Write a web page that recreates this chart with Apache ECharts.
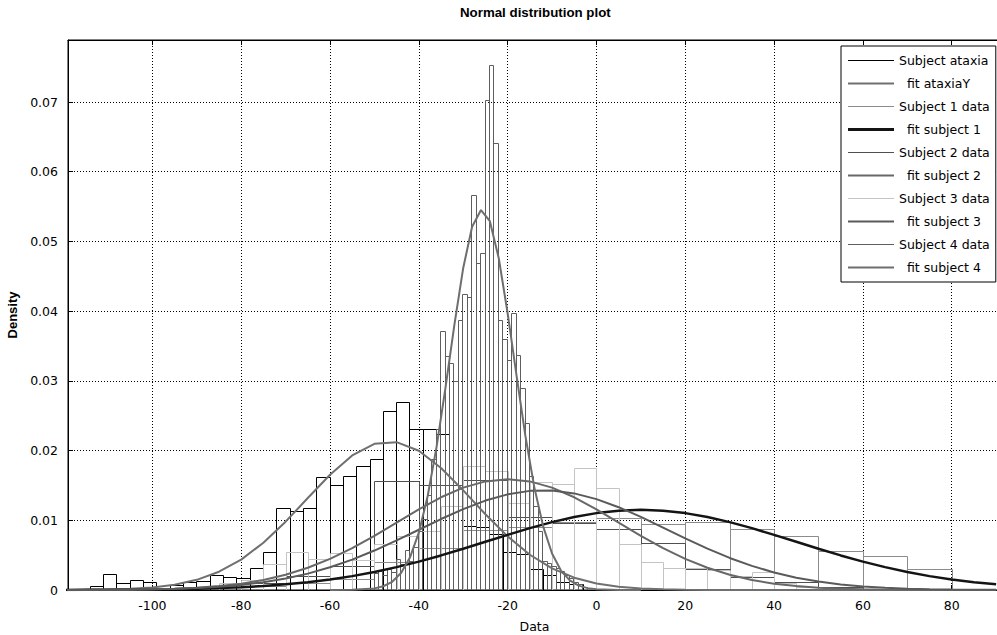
<!DOCTYPE html>
<html><head><meta charset="utf-8">
<script src="https://cdn.jsdelivr.net/npm/echarts@6/dist/echarts.min.js"></script>
<style>html,body{margin:0;padding:0;background:#fff}#c{width:997px;height:635px}</style>
</head><body><div id="c"></div>
<script>
// ---------- histogram data (left bin edge, bin width, density) ----------
const ataxiaEdges = [-114.1,-111.1,-108.1,-105.1,-102.1,-99.1,-96.1,-93.1,-90.1,-87.1,-84.1,-81.1,-78.1,-75.1,-72.1,-69.1,-66.1,-63.1,-60.1,-57.1,-54.1,-51.1,-48.1,-45.1,-42.1,-39.1,-36.1,-33.1,-30.1,-27.1,-24.1,-21.1,-18.1,-15.1,-12.1,-9.1,-6.1];
const ataxiaWidth = 3;
const ataxiaDensity = [0.0006,0.0023,0.0010,0.0014,0.0011,0.0003,0.0007,0.0011,0.0013,0.0022,0.0019,0.0017,0.0031,0.0055,0.0117,0.0114,0.0117,0.0162,0.0151,0.0163,0.0178,0.0188,0.0257,0.0269,0.0231,0.0231,0.0224,0.0120,0.0092,0.0090,0.0081,0.0055,0.0052,0.0030,0.0022,0.0012,0.0008];

const subj1Edges = [-80,-70,-60,-50,-40,-30,-20,-10,0,10,20,30,40,50,60,70];
const subj1Width = 10;
const subj1Density = [0.0006,0.0010,0.0016,0.0040,0.0060,0.0086,0.0090,0.0098,0.0104,0.0095,0.0097,0.0088,0.0077,0.0056,0.0049,0.0030];

const subj2Edges = [-90,-80,-70,-60,-50,-40,-30,-20,-10,0,10,20,30,40,50];
const subj2Width = 10;
const subj2Density = [0.0004,0.0010,0.0020,0.0035,0.0156,0.0150,0.0158,0.0105,0.0096,0.0087,0.0067,0.0030,0.0018,0.0012,0.0004];

const subj3Edges = [-85,-80,-75,-70,-65,-60,-55,-50,-45,-40,-35,-30,-25,-20,-15,-10,-5,0,5,10,15,20,25,30,35,40,45];
const subj3Width = 5;
const subj3Density = [0.0010,0.0015,0.0037,0.0055,0.0045,0.0053,0.0043,0.0066,0.0078,0.0085,0.0120,0.0178,0.0170,0.0125,0.0155,0.0152,0.0175,0.0146,0.0066,0.0040,0.0031,0.0031,0.0028,0.0020,0.0026,0.0010,0.0004];

const subj4Edges = [-50.2,-49.2,-48.2,-47.2,-46.2,-45.2,-44.2,-43.2,-42.2,-41.2,-40.2,-39.2,-38.2,-37.2,-36.2,-35.2,-34.2,-33.2,-32.2,-31.2,-30.2,-29.2,-28.2,-27.2,-26.2,-25.2,-24.2,-23.2,-22.2,-21.2,-20.2,-19.2,-18.2,-17.2,-16.2,-15.2,-14.2,-13.2,-12.2,-11.2,-10.2,-9.2,-8.2,-7.2,-6.2,-5.2,-4.2,-3.2];
const subj4Width = 1;
const subj4Density = [0.0024,0.0027,0.0022,0.0030,0.0026,0.0044,0.0038,0.0057,0.0042,0.0061,0.0085,0.0102,0.0136,0.0188,0.0231,0.0371,0.0336,0.0325,0.0300,0.0387,0.0425,0.0421,0.0567,0.0469,0.0484,0.0703,0.0753,0.0641,0.0387,0.0360,0.0330,0.0397,0.0337,0.0290,0.0240,0.0163,0.0120,0.0085,0.0042,0.0039,0.0035,0.0031,0.0027,0.0022,0.0017,0.0012,0.0008,0.0005];

// ---------- fitted curves ----------
const fitX = [-120,-115,-110,-105,-100,-95,-90,-85,-80,-75,-70,-65,-60,-55,-50,-45,-40,-35,-30,-25,-20,-15,-10,-5,0,5,10,15,20,25,30,35,40,45,50,55,60,65,70,75,80,85,90];
const fitAtaxia = [0.00001,0.00003,0.00007,0.00017,0.00037,0.00076,0.00146,0.00262,0.00436,0.00678,0.00980,0.01319,0.01654,0.01930,0.02097,0.02121,0.01998,0.01751,0.01429,0.01086,0.00769,0.00506,0.00310,0.00177,0.00094,0.00047,0.00021,0.00009,0.00004,0.00001,0,0,0,0,0,0,0,0,0,0,0,0,0];
const fitSubj1 = [0.00001,0.00002,0.00003,0.00005,0.00008,0.00012,0.00018,0.00027,0.00040,0.00057,0.00081,0.00111,0.00150,0.00199,0.00258,0.00328,0.00407,0.00496,0.00592,0.00692,0.00791,0.00887,0.00974,0.01047,0.01103,0.01138,0.01150,0.01138,0.01103,0.01047,0.00974,0.00887,0.00791,0.00692,0.00592,0.00496,0.00407,0.00328,0.00258,0.00199,0.00150,0.00111,0.00081];
const fitSubj2 = [0.00001,0.00001,0.00003,0.00005,0.00010,0.00018,0.00033,0.00056,0.00091,0.00144,0.00219,0.00319,0.00447,0.00601,0.00778,0.00968,0.01157,0.01330,0.01469,0.01558,0.01590,0.01558,0.01469,0.01330,0.01157,0.00968,0.00778,0.00601,0.00447,0.00319,0.00219,0.00144,0.00091,0.00056,0.00033,0.00018,0.00010,0.00005,0.00003,0.00001,0.00001,0,0];
const fitSubj3 = [0.00001,0.00002,0.00003,0.00006,0.00010,0.00017,0.00029,0.00047,0.00073,0.00112,0.00165,0.00235,0.00326,0.00436,0.00566,0.00711,0.00864,0.01018,0.01161,0.01283,0.01372,0.01422,0.01426,0.01386,0.01304,0.01188,0.01048,0.00895,0.00741,0.00594,0.00460,0.00346,0.00252,0.00177,0.00121,0.00080,0.00051,0.00032,0.00019,0.00011,0.00006,0.00003,0.00002];
const fitSubj4X = [-60,-55,-50,-48,-46,-44,-42,-40,-38,-36,-34,-32,-30,-28,-26,-24,-22,-20,-18,-16,-14,-12,-10,-8,-6,-4,-2,0,5,10];
const fitSubj4 = [0,0.00002,0.00023,0.00054,0.00118,0.00244,0.00465,0.00822,0.01349,0.02054,0.02899,0.03800,0.04620,0.05210,0.05450,0.05290,0.04760,0.03970,0.03080,0.02210,0.01476,0.00913,0.00524,0.00279,0.00138,0.00063,0.00027,0.00011,0.00001,0];

// ---------- axes ----------
const xMin = -119, xMax = 91.1;
const yMin = 0, yMax = 0.0789, yStep = 0.01;

const chart = echarts.init(document.getElementById('c'), null, {renderer: 'svg'});

function histData(edges, width, dens) {
  return edges.map((e, i) => [e, e + width, dens[i]]);
}
function histRender(color) {
  return function (params, api) {
    const a = api.coord([api.value(0), 0]);
    const b = api.coord([api.value(1), api.value(2)]);
    const x0 = Math.round(a[0]) + 0.5, x1 = Math.round(b[0]) + 0.5;
    const y0 = Math.round(a[1]) + 0.5, y1 = Math.round(b[1]) + 0.5;
    return {
      type: 'rect',
      shape: {x: x0, y: y1, width: x1 - x0, height: y0 - y1},
      style: {fill: 'none', stroke: color, lineWidth: 1}
    };
  };
}
function histSeries(name, edges, width, dens, color) {
  return {
    type: 'custom', name: name, silent: true, clip: true,
    renderItem: histRender(color),
    itemStyle: {color: color},
    encode: {x: [0, 1], y: 2},
    data: histData(edges, width, dens)
  };
}
function fitSeries(name, xs, ys, color, w) {
  return {
    type: 'line', name: name, silent: true, clip: true,
    symbol: 'none', showSymbol: false, smooth: false,
    lineStyle: {color: color, width: w},
    itemStyle: {color: color},
    data: xs.map((x, i) => [x, ys[i]])
  };
}

const thinIcon = 'path://M0,0H46V1H0Z';
const thickIcon = 'path://M0,0H46V2H0Z';
const axisFont = {fontFamily: 'DejaVu Sans', fontSize: 12.5, color: '#000'};

chart.setOption({
  animation: false,
  backgroundColor: '#fff',
  title: {
    text: 'Normal distribution plot',
    left: 460, top: 6, padding: 0,
    textStyle: {fontFamily: 'Liberation Sans', fontWeight: 'bold', fontSize: 13.3, color: '#000'}
  },
  grid: {left: 68, top: 40, right: -4, bottom: 45, outerBoundsMode: 'none', containLabel: false,
         show: true, borderColor: '#000', borderWidth: 1, backgroundColor: '#fff'},
  legend: {
    orient: 'vertical', left: 841, top: 46,
    padding: [8, 6, 8, 7], itemGap: 10, itemWidth: 46, itemHeight: 14,
    backgroundColor: '#fff', borderColor: '#000', borderWidth: 1, borderRadius: 0,
    symbolKeepAspect: true,
    textStyle: {fontFamily: 'DejaVu Sans', fontSize: 12.5, color: '#000'},
    formatter: n => (n.indexOf('fit') === 0 ? '  ' + n : n),
    data: [
      {name: 'Subject ataxia', icon: thinIcon},
      {name: 'fit ataxiaY', icon: thickIcon},
      {name: 'Subject 1 data', icon: thinIcon},
      {name: 'fit subject 1', icon: 'path://M0,0H46V3H0Z'},
      {name: 'Subject 2 data', icon: thinIcon},
      {name: 'fit subject 2', icon: thickIcon},
      {name: 'Subject 3 data', icon: thinIcon},
      {name: 'fit subject 3', icon: thickIcon},
      {name: 'Subject 4 data', icon: thinIcon},
      {name: 'fit subject 4', icon: thickIcon}
    ]
  },
  xAxis: [{
    type: 'value', min: xMin, max: xMax, splitNumber: 10, position: 'bottom',
    name: 'Data', nameLocation: 'middle', nameGap: 30,
    nameTextStyle: {fontFamily: 'DejaVu Sans', fontSize: 12.5, color: '#000'},
    axisLine: {show: true, onZero: false, lineStyle: {color: '#000', width: 1}},
    axisTick: {show: true, inside: true, length: 5, lineStyle: {color: '#000'}},
    axisLabel: Object.assign({margin: 9, showMinLabel: false, showMaxLabel: false}, axisFont),
    splitLine: {show: true, lineStyle: {color: '#000', width: 1, type: [1, 2]}}
  }, {
    type: 'value', min: xMin, max: xMax, splitNumber: 10, position: 'top',
    axisLine: {show: true, onZero: false, lineStyle: {color: '#000', width: 1}},
    axisTick: {show: true, inside: true, length: 5, lineStyle: {color: '#000'}},
    axisLabel: {show: false},
    splitLine: {show: false}
  }],
  yAxis: {
    type: 'value', min: yMin, max: yMax, interval: yStep,
    name: 'Density', nameLocation: 'middle', nameRotate: 90, nameGap: 34,
    nameTextStyle: {fontFamily: 'Liberation Sans', fontWeight: 'bold', fontSize: 13, color: '#000'},
    axisLine: {show: true, onZero: false, lineStyle: {color: '#000', width: 1}},
    axisTick: {show: true, inside: true, length: 5, lineStyle: {color: '#000'}},
    axisLabel: Object.assign({margin: 10, showMaxLabel: false}, axisFont),
    splitLine: {show: true, lineStyle: {color: '#000', width: 1, type: [1, 2]}}
  },
  series: [
    histSeries('Subject ataxia', ataxiaEdges, ataxiaWidth, ataxiaDensity, '#000000'),
    fitSeries('fit ataxiaY', fitX, fitAtaxia, '#707070', 2),
    histSeries('Subject 1 data', subj1Edges, subj1Width, subj1Density, '#8c8c8c'),
    fitSeries('fit subject 1', fitX, fitSubj1, '#141414', 2.5),
    histSeries('Subject 2 data', subj2Edges, subj2Width, subj2Density, '#505050'),
    fitSeries('fit subject 2', fitX, fitSubj2, '#686868', 2),
    histSeries('Subject 3 data', subj3Edges, subj3Width, subj3Density, '#c4c4c4'),
    fitSeries('fit subject 3', fitX, fitSubj3, '#5a5a5a', 2),
    histSeries('Subject 4 data', subj4Edges, subj4Width, subj4Density, '#5e5e5e'),
    fitSeries('fit subject 4', fitSubj4X, fitSubj4, '#6e6e6e', 2)
  ]
});
</script>
</body></html>
